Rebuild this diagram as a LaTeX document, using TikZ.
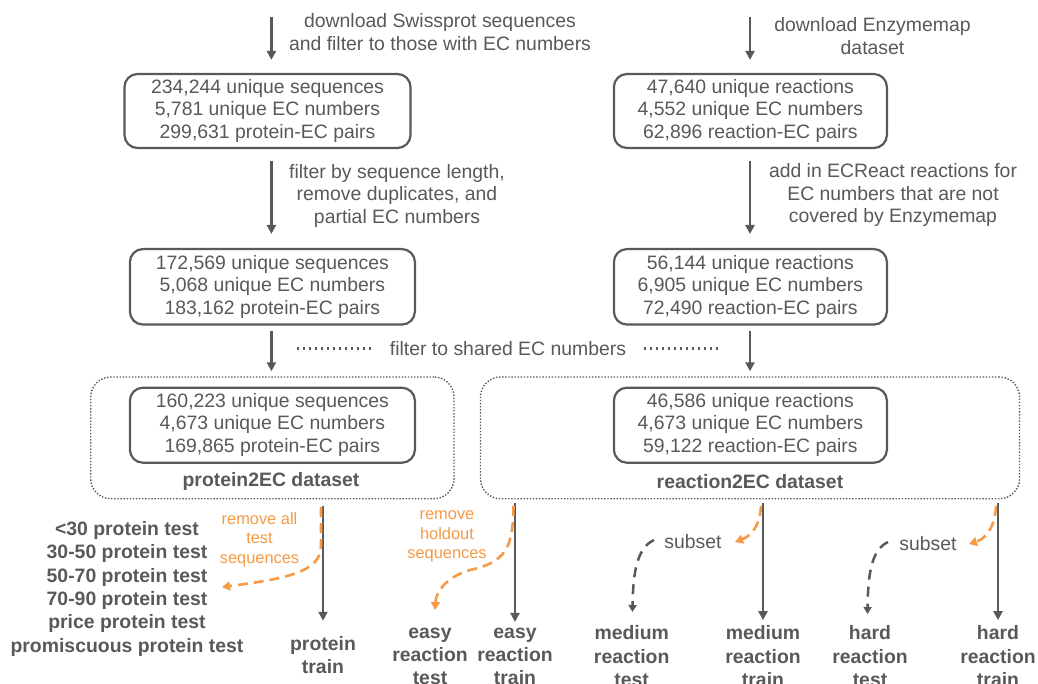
\documentclass[tikz,border=0pt]{standalone}
\usepackage{fontspec}
\setmainfont{Liberation Sans}
\usetikzlibrary{arrows.meta}
\definecolor{dg}{HTML}{595959}
\definecolor{og}{HTML}{F69A45}
\newcommand\lblstrut{\rule[-0.24em]{0pt}{1.2em}}
\begin{document}
\begin{tikzpicture}[x=1pt,y=-1pt,
  every node/.style={text=dg, font=\fontsize{19.4}{22.5}\selectfont, align=center, inner sep=0pt,
    execute at begin node=\lblstrut, execute at end node=\lblstrut},
  box/.style={draw=dg, line width=2.2pt, rounded corners=13pt},
  dbox/.style={draw=dg, line width=1.4pt, dash pattern=on 1.4pt off 1.7pt, rounded corners=20pt},
  arr/.style={draw=dg, line width=2.6pt, -{Triangle[length=9pt,width=9pt]}},
  olab/.style={text=og, font=\fontsize{16.4}{19.5}\selectfont},
  blab/.style={font=\fontsize{19.4}{23.4}\selectfont\bfseries},
  odash/.style={draw=og, line width=2.6pt, dash pattern=on 10pt off 6pt, -{Triangle[length=8pt,width=9pt]}},
  gdash/.style={draw=dg, line width=2.5pt, dash pattern=on 10pt off 7pt, -{Triangle[length=7pt,width=8pt]}},
  dotl/.style={draw=dg, line width=2.4pt, dash pattern=on 2.4pt off 3.6pt}
]
\fill[white] (0,0) rectangle (1038,683);
\useasboundingbox (0,0) rectangle (1038,683);

% top texts
\node (t1) at (440,34.2) {download Swissprot sequences\\and filter to those with EC numbers};
\node (t2) at (397,196) {filter by sequence length,\\remove duplicates, and\\partial EC numbers};
\node (t3) at (872.5,38.5) {download Enzymemap\\dataset};
\node (t4) at (893,195.5) {add in ECReact reactions for\\EC numbers that are not\\covered by Enzymemap};
\node (t5) at (508,348.5) {filter to shared EC numbers};

% boxes left
\node[box, minimum width=286pt, minimum height=74pt] (b1) at (267.5,111)
  {234,244 unique sequences\\5,781 unique EC numbers\\299,631 protein-EC pairs};
\node[box, minimum width=285pt, minimum height=75.5pt] (b2) at (272.4,286.8)
  {172,569 unique sequences\\5,068 unique EC numbers\\183,162 protein-EC pairs};
\node[dbox, minimum width=363.3pt, minimum height=121.7pt] (d1) at (272.35,437.85) {};
\node[box, minimum width=285pt, minimum height=75pt] (b3) at (272.4,425.2)
  {160,223 unique sequences\\4,673 unique EC numbers\\169,865 protein-EC pairs};
\node[blab] (p2ec) at (271,480) {protein2EC dataset};

% boxes right
\node[box, minimum width=273pt, minimum height=74pt] (r1) at (750.4,111)
  {47,640 unique reactions\\4,552 unique EC numbers\\62,896 reaction-EC pairs};
\node[box, minimum width=273pt, minimum height=75.5pt] (r2) at (750.4,286.8)
  {56,144 unique reactions\\6,905 unique EC numbers\\72,490 reaction-EC pairs};
\node[dbox, minimum width=539pt, minimum height=121.7pt] (d2) at (750,437.85) {};
\node[box, minimum width=273pt, minimum height=75pt] (r3) at (750.4,425.2)
  {46,586 unique reactions\\4,673 unique EC numbers\\59,122 reaction-EC pairs};
\node[blab] (r2ec) at (750,482) {reaction2EC dataset};

% vertical arrows top
\coordinate (s1) at (271.4,17);
\coordinate (s2) at (750,17);
\draw[arr, shorten >=13pt] (s1) -- (s1 |- b1.north);
\draw[arr, shorten <=12pt, shorten >=14pt] (b1.south -| s1) -- (b2.north -| s1);
\draw[arr, shorten <=5pt, shorten >=5pt] (b2.south -| s1) -- (d1.north -| s1);
\draw[arr, shorten >=13pt] (s2) -- (s2 |- r1.north);
\draw[arr, shorten <=12pt, shorten >=14pt] (r1.south -| s2) -- (r2.north -| s2);
\draw[arr, shorten <=5pt, shorten >=5pt] (r2.south -| s2) -- (d2.north -| s2);

% dotted lines
\draw[dotl] ([xshift=-18.6pt]t5.west) -- ++(-77.4,0);
\draw[dotl] ([xshift=17.4pt]t5.east) -- ++(77,0);

% bottom labels
\node[blab] (list) at (127,589.1)
  {<30 protein test\\30-50 protein test\\50-70 protein test\\70-90 protein test\\price protein test\\promiscuous protein test};
\node[blab] (ptr) at (323,657) {protein\\train};
\node[blab] (etest) at (430,658.5) {easy\\reaction\\test};
\node[blab] (etrain) at (515,658.5) {easy\\reaction\\train};
\node[blab] (mtest) at (631.7,658.5) {medium\\reaction\\test};
\node[blab] (mtrain) at (763,658.5) {medium\\reaction\\train};
\node[blab] (htest) at (870,658.5) {hard\\reaction\\test};
\node[blab] (htrain) at (998,658.5) {hard\\reaction\\train};

% bottom arrows
\draw[arr, shorten <=7pt, shorten >=15pt] (d1.south -| ptr) -- (ptr.north);
\draw[arr, shorten <=4pt, shorten >=5.4pt] (d2.south -| etrain) -- (etrain.north);
\draw[arr, shorten <=4pt, shorten >=5.4pt] (d2.south -| mtrain) -- (mtrain.north);
\draw[arr, shorten <=4pt, shorten >=5.4pt] (d2.south -| htrain) -- (htrain.north);

% orange labels
\node[olab] (ol1) at (259.5,540) {remove all\\test\\sequences};
\node[olab] (ol2) at (447,537) {remove\\holdout\\sequences};
\node (sub1) at (693,541.7) {subset};
\node (sub2) at (928,544) {subset};

% orange dashed curves
\coordinate (o1s) at (321,507);
\coordinate (o1e) at (222,587);
\draw[odash] (o1s) -- (321,546) .. controls (321,572) and (285,579) .. (o1e);
\coordinate (o2s) at (513.5,506);
\coordinate (o2e) at (435,610);
\draw[odash] (o2s) .. controls (513,548) and (506,562) .. (470,570) .. controls (446,577) and (436,592) .. (o2e);
\coordinate (o3s) at (761,506);
\coordinate (o3e) at (735,542);
\draw[odash] (o3s) .. controls (760,526) and (751,536) .. (o3e);
\coordinate (o4s) at (996,506);
\coordinate (o4e) at (969,544);
\draw[odash] (o4s) .. controls (995,528) and (985,539) .. (o4e);

% gray dashed curves
\coordinate (g1s) at (654,540);
\coordinate (g1e) at (632.5,612);
\draw[gdash] (g1s) .. controls (637,548) and (633,572) .. (g1e);
\coordinate (g2s) at (888,542);
\coordinate (g2e) at (867.5,614);
\draw[gdash] (g2s) .. controls (871,550) and (868,575) .. (g2e);
\end{tikzpicture}
\end{document}
